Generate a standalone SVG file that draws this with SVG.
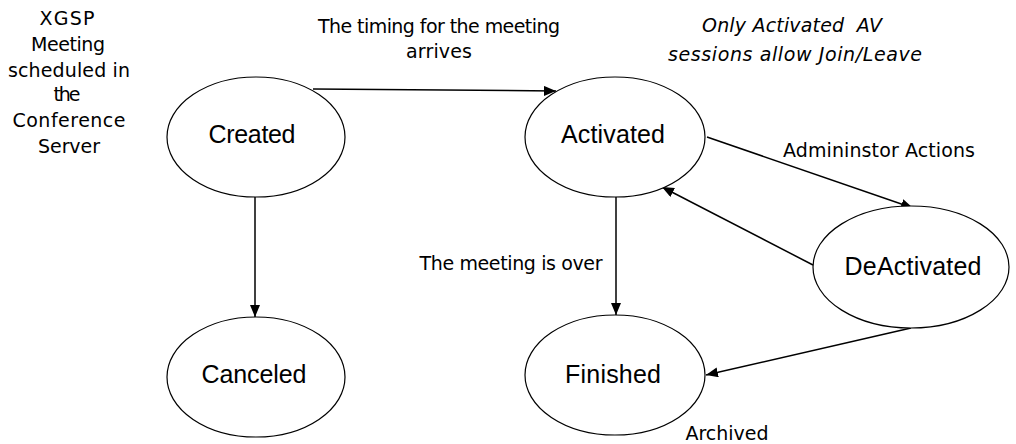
<svg xmlns="http://www.w3.org/2000/svg" width="1016" height="444" viewBox="0 0 1016 444">
<style>
  .st { fill: #ffffff; stroke: #000000; stroke-width: 1.2; }
  .lbl { font-family: "Liberation Sans", Arial, sans-serif; font-size: 25px; fill: #000; text-anchor: middle; }
  .ann { font-family: "DejaVu Sans", "Liberation Sans", sans-serif; font-size: 19px; fill: #000; text-anchor: middle; }
  .it { font-style: italic; }
  .edge { stroke: #000; stroke-width: 1.5; fill: none; marker-end: url(#arr); }
</style>
<defs>
  <marker id="arr" markerUnits="userSpaceOnUse" markerWidth="12" markerHeight="10" viewBox="0 0 12 10" refX="12" refY="5" orient="auto">
    <path d="M0,0 L12,5 L0,10 Z" fill="#000"/>
  </marker>
</defs>
<rect width="1016" height="444" fill="#ffffff"/>

<g id="note-xgsp" class="ann">
  <text x="67" y="25" textLength="55">XGSP</text>
  <text x="68" y="51" textLength="74">Meeting</text>
  <text x="69" y="77" textLength="122">scheduled in</text>
  <text x="67" y="101" textLength="27">the</text>
  <text x="69" y="127" textLength="113">Conference</text>
  <text x="69" y="153" textLength="62">Server</text>
</g>

<g id="connectors">
  <path class="edge" d="M313,89 L556,91"/>
  <path class="edge" d="M255,197 L255,317"/>
  <path class="edge" d="M616,197 L616,315"/>
  <path class="edge" d="M707,137 L913,208"/>
  <path class="edge" d="M813,265 L662,187"/>
  <path class="edge" d="M911,328 L706,375"/>
</g>

<g id="node-created">
  <ellipse class="st" cx="256" cy="137" rx="89" ry="60"/>
  <text class="lbl" x="252" y="143" textLength="87">Created</text>
</g>
<g id="node-activated">
  <ellipse class="st" cx="615" cy="137" rx="90" ry="60"/>
  <text class="lbl" x="613" y="143" textLength="104">Activated</text>
</g>
<g id="node-deactivated">
  <ellipse class="st" cx="911" cy="267" rx="98" ry="61"/>
  <text class="lbl" x="913" y="275" textLength="137">DeActivated</text>
</g>
<g id="node-canceled">
  <ellipse class="st" cx="256" cy="377" rx="89" ry="60"/>
  <text class="lbl" x="254" y="383" textLength="105">Canceled</text>
</g>
<g id="node-finished">
  <ellipse class="st" cx="615" cy="375" rx="90" ry="60"/>
  <text class="lbl" x="613" y="383" textLength="96">Finished</text>
</g>

<g id="labels" class="ann">
  <text x="439" y="33" textLength="242">The timing for the meeting</text>
  <text x="439" y="58" textLength="66">arrives</text>
  <text class="it" x="792" y="32" textLength="180" xml:space="preserve">Only Activated  AV</text>
  <text class="it" x="795" y="61" textLength="254">sessions allow Join/Leave</text>
  <text x="879" y="157" textLength="192">Admininstor Actions</text>
  <text x="511" y="270" textLength="183">The meeting is over</text>
  <text x="727" y="440" textLength="83">Archived</text>
</g>
</svg>
